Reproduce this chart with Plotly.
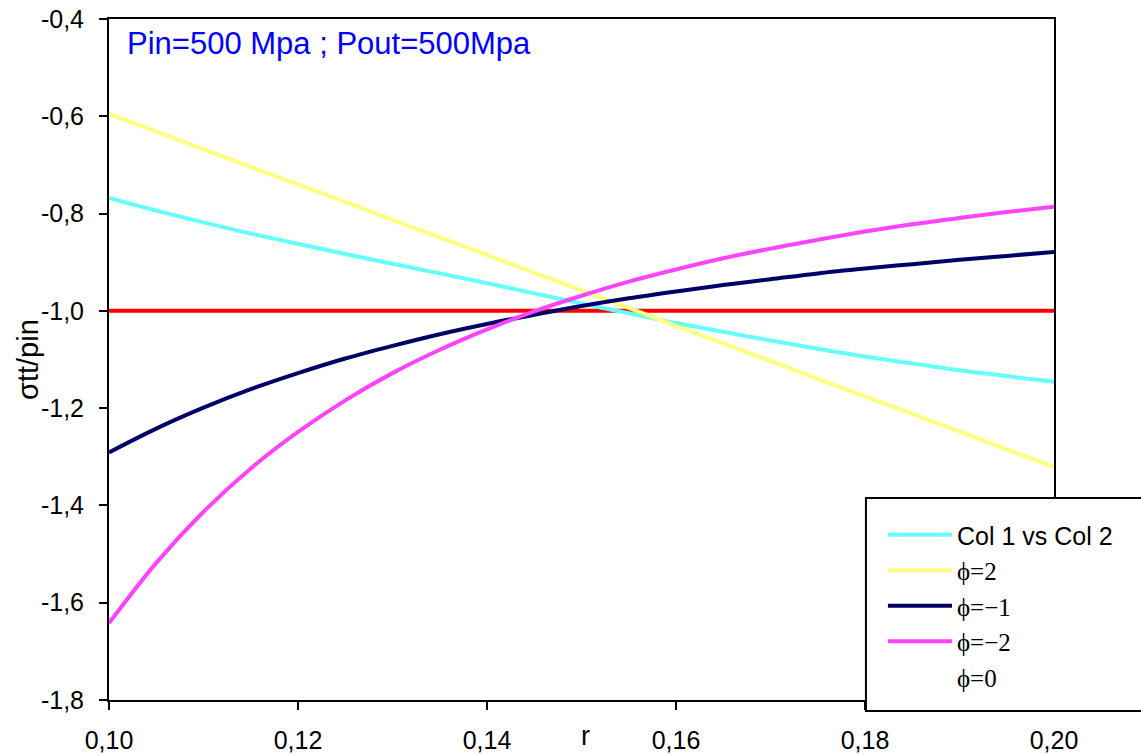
import plotly.graph_objects as go

r = [0.100, 0.105, 0.110, 0.115, 0.120, 0.125, 0.130, 0.135, 0.140, 0.145, 0.150,
     0.155, 0.160, 0.165, 0.170, 0.175, 0.180, 0.185, 0.190, 0.195, 0.200]
col2 = [-0.768, -0.794, -0.818, -0.841, -0.862, -0.883, -0.903, -0.923, -0.943, -0.964, -0.985,
        -1.005, -1.025, -1.043, -1.061, -1.078, -1.094, -1.108, -1.122, -1.134, -1.146]
phi_p2 = [-0.595, -0.631, -0.668, -0.704, -0.740, -0.776, -0.813, -0.849, -0.885, -0.922, -0.958,
          -0.994, -1.031, -1.067, -1.103, -1.140, -1.176, -1.212, -1.248, -1.285, -1.321]
phi_m1 = [-1.291, -1.242, -1.199, -1.161, -1.128, -1.098, -1.072, -1.048, -1.027, -1.008, -0.990,
          -0.974, -0.960, -0.947, -0.935, -0.923, -0.913, -0.904, -0.895, -0.887, -0.879]
phi_m2 = [-1.642, -1.518, -1.413, -1.324, -1.249, -1.184, -1.128, -1.080, -1.038, -1.001, -0.969,
          -0.940, -0.915, -0.892, -0.872, -0.854, -0.837, -0.822, -0.809, -0.797, -0.786]
phi_0 = [-1.0] * 21

x_ticks = [0.10, 0.12, 0.14, 0.16, 0.18, 0.20]
x_labels = ["0,10", "0,12", "0,14", "0,16", "0,18", "0,20"]
y_ticks = [-1.8, -1.6, -1.4, -1.2, -1.0, -0.8, -0.6, -0.4]
y_labels = ["-1,8", "-1,6", "-1,4", "-1,2", "-1,0", "-0,8", "-0,6", "-0,4"]

SERIF = "Liberation Serif, Times New Roman, serif"
LW = 4

fig = go.Figure()
fig.add_trace(go.Scatter(x=r, y=phi_0, mode="lines", line=dict(color="#FF0000", width=LW),
                         showlegend=False))
fig.add_trace(go.Scatter(x=r, y=col2, mode="lines", line=dict(color="#66FFFF", width=LW, shape="spline"),
                         name="Col 1 vs Col 2"))
fig.add_trace(go.Scatter(x=r, y=phi_p2, mode="lines", line=dict(color="#FFFF80", width=LW, shape="spline"),
                         name=f'<span style="font-family:{SERIF}">ϕ=2</span>'))
fig.add_trace(go.Scatter(x=r, y=phi_m1, mode="lines", line=dict(color="#000066", width=LW, shape="spline"),
                         name=f'<span style="font-family:{SERIF}">ϕ=−1</span>'))
fig.add_trace(go.Scatter(x=r, y=phi_m2, mode="lines", line=dict(color="#FF44FF", width=LW, shape="spline"),
                         name=f'<span style="font-family:{SERIF}">ϕ=−2</span>'))
fig.add_trace(go.Scatter(x=[None], y=[None], mode="lines", line=dict(color="rgba(0,0,0,0)", width=LW),
                         name=f'<span style="font-family:{SERIF}">ϕ=0</span>'))

fig.update_layout(
    width=1141, height=755,
    margin=dict(l=109, r=87, t=19, b=55, autoexpand=False),
    paper_bgcolor="white", plot_bgcolor="white",
    font=dict(family="Liberation Sans, Arial, sans-serif", size=24, color="black"),
    xaxis=dict(range=[0.10, 0.20], tickvals=x_ticks, ticktext=x_labels,
               ticks="outside", ticklen=8, tickwidth=2, tickcolor="black",
               showline=True, linecolor="black", linewidth=2, mirror=True,
               showgrid=False, zeroline=False, ticklabelstandoff=9, automargin=False,
               tickfont=dict(size=25)),
    yaxis=dict(range=[-1.8, -0.4], tickvals=y_ticks, ticktext=y_labels,
               ticks="outside", ticklen=8, tickwidth=2, tickcolor="black",
               showline=True, linecolor="black", linewidth=2, mirror=True,
               showgrid=False, zeroline=False, ticklabelstandoff=10, automargin=False,
               tickfont=dict(size=25)),
    legend=dict(x=0.819, y=0.276, xanchor="left", yanchor="top",
                bgcolor="rgba(0,0,0,0)", borderwidth=0,
                font=dict(size=25), itemwidth=64, traceorder="normal"),
    showlegend=True,
)

fig.add_shape(type="rect", xref="paper", yref="paper",
              x0=0.801, x1=1.12, y0=-0.0162, y1=0.2966,
              fillcolor="white", line=dict(color="black", width=2), layer="above")

fig.add_annotation(text="Pin=500 Mpa ; Pout=500Mpa", xref="paper", yref="paper",
                   x=(125 - 109) / 945, y=(700 - 44) / 681, xanchor="left", yanchor="middle",
                   showarrow=False, font=dict(color="#0000FF", size=31))
fig.add_annotation(text="σtt/pin", xref="paper", yref="paper",
                   x=(28 - 109) / 945, y=(700 - 360) / 681, xanchor="center", yanchor="middle",
                   textangle=-90, showarrow=False, font=dict(size=29))
fig.add_annotation(text="r", xref="paper", yref="paper",
                   x=(585 - 109) / 945, y=(700 - 736) / 681, xanchor="center", yanchor="middle",
                   showarrow=False, font=dict(size=27))

fig.write_html("out.html")
